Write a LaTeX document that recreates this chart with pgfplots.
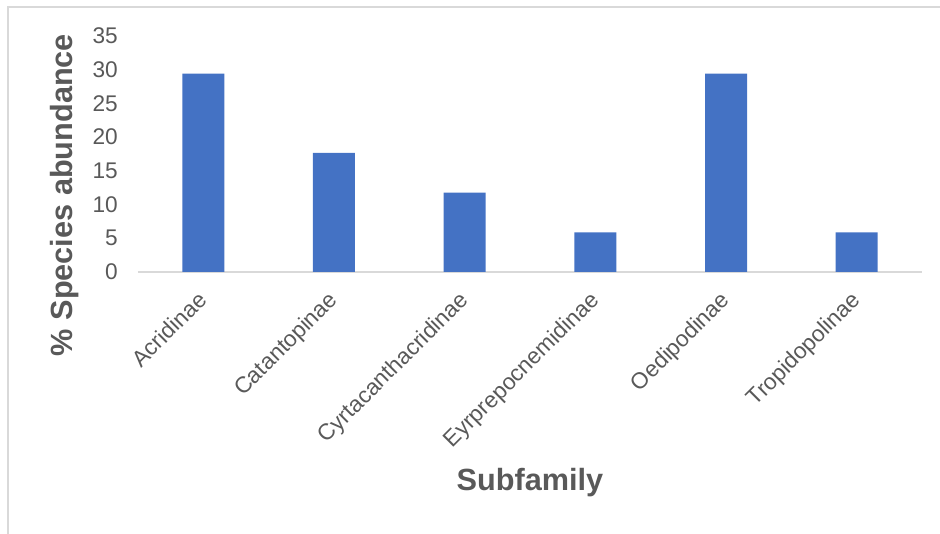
\documentclass[border=0pt]{standalone}
\usepackage{fontspec}
\setmainfont{Liberation Sans}
\usepackage{pgfplots}
\pgfplotsset{compat=1.18}
\definecolor{barblue}{HTML}{4472C4}
\definecolor{txtgray}{HTML}{595959}
\definecolor{linegray}{HTML}{D9D9D9}
\begin{document}
\begin{tikzpicture}
\useasboundingbox (0,0) rectangle (705pt,400.5pt);
\draw[linegray, line width=1.5pt] (6pt,0pt) -- (6pt,395.25pt) -- (705pt,395.25pt);
\begin{axis}[
  at={(103.5pt,196.5pt)}, anchor=south west,
  scale only axis, width=588pt, height=177pt,
  xmin=-0.5, xmax=5.5, ymin=0, ymax=35,
  ytick={0,5,...,35},
  xtick={0,1,2,3,4,5},
  xticklabels={Acridinae,Catantopinae,Cyrtacanthacridinae,Eyrprepocnemidinae,Oedipodinae,Tropidopolinae},
  major tick length=0pt,
  axis x line*=bottom, axis y line*=left,
  x axis line style={draw=linegray, line width=0.9pt, -},
  y axis line style={draw=none},
  /pgf/number format/assume math mode=true,
  tick label style={font=\fontsize{17}{20}\selectfont, text=txtgray},
  yticklabel style={anchor=east, inner sep=0pt, xshift=-15pt},
  xticklabel style={xshift=-5.25pt, yshift=-13pt, rotate=45, anchor=north east, inner sep=0pt},
  xlabel={\textbf{Subfamily}},
  ylabel={\textbf{\% Species abundance}},
  label style={font=\fontsize{23}{27}\selectfont, text=txtgray},
  xlabel style={at={(axis description cs:0.5,0)}, anchor=center, yshift=-158.25pt},
  ylabel style={at={(axis description cs:0,0.326)}, anchor=center, yshift=54.75pt},
  ybar, bar width=31.5pt,
]
\addplot[fill=barblue, draw=none] coordinates {(0,29.41) (1,17.65) (2,11.76) (3,5.88) (4,29.41) (5,5.88)};
\end{axis}
\end{tikzpicture}
\end{document}
